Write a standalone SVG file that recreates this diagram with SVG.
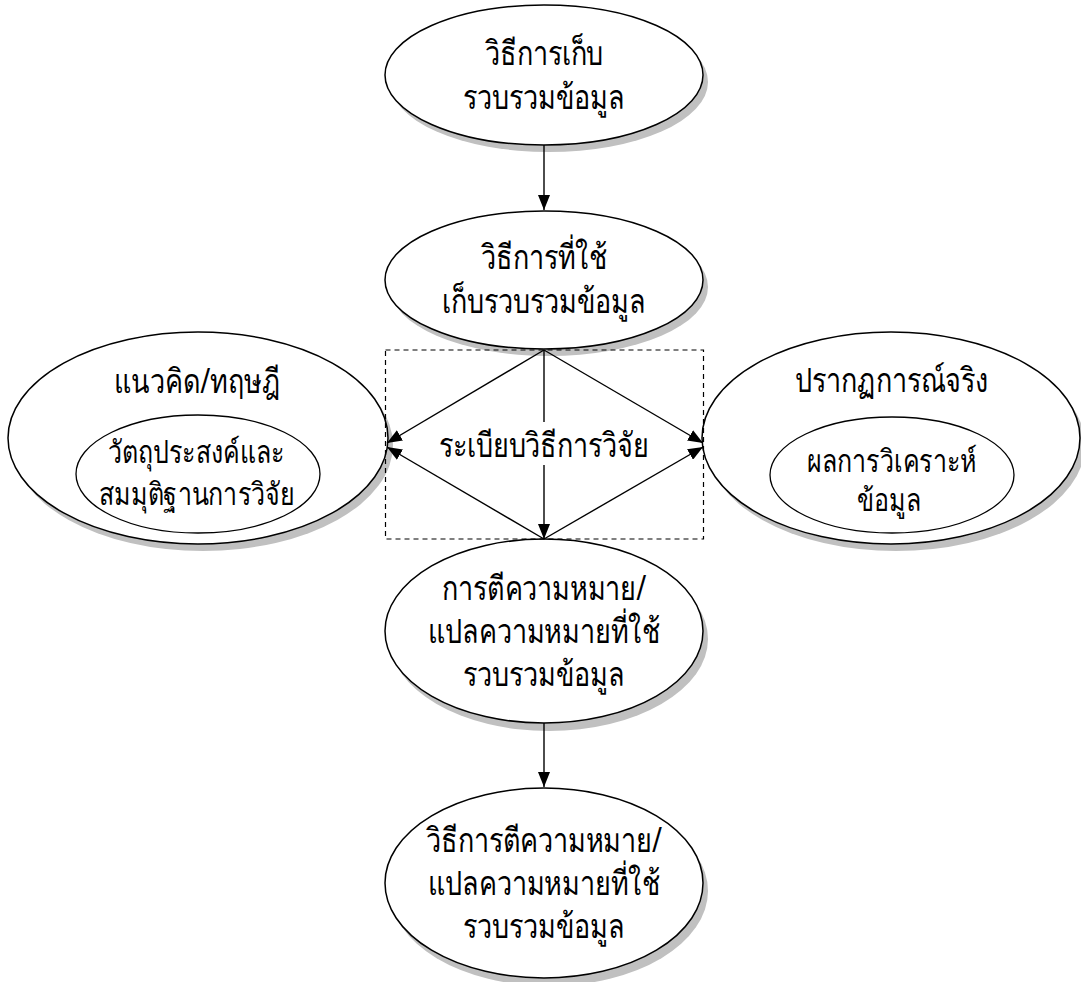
<svg xmlns="http://www.w3.org/2000/svg" width="1081" height="982" viewBox="0 0 1081 982">
<defs>
<style>
.sh{fill:#c0c0c0;stroke:none}
.nd{fill:#fff;stroke:#000;stroke-width:1.5}
.in{fill:#fff;stroke:#000;stroke-width:1.3}
.t{font-family:"Noto Sans","DejaVu Sans",sans-serif;font-size:27px;fill:#000;text-anchor:middle}
.ts{font-family:"Noto Sans","DejaVu Sans",sans-serif;font-size:25px;fill:#000;text-anchor:middle}
.c{stroke:#000;stroke-width:1.4;fill:none;marker-end:url(#ah)}
.box{fill:none;stroke:#000;stroke-width:1.2;stroke-dasharray:5 4}
</style>
<marker id="ah" viewBox="0 0 15 12" refX="15" refY="6" markerWidth="15" markerHeight="12" markerUnits="userSpaceOnUse" orient="auto">
<path d="M0,0 L15,6 L0,12 Z" fill="#000"/>
</marker>
</defs>
<rect width="1081" height="982" fill="#fff"/>
<g id="shadows">
<ellipse class="sh" cx="549" cy="82" rx="159" ry="70"/>
<ellipse class="sh" cx="549" cy="287" rx="159" ry="69"/>
<ellipse class="sh" cx="203" cy="445" rx="190" ry="106"/>
<ellipse class="sh" cx="896" cy="445" rx="189" ry="106"/>
<ellipse class="sh" cx="549" cy="639" rx="159" ry="92"/>
<ellipse class="sh" cx="549" cy="891" rx="159" ry="95"/>
</g>
<g id="n1">
<ellipse class="nd" cx="544" cy="75" rx="159" ry="70"/>
<text class="t" x="544" y="65" transform="translate(0,65) scale(1,1.25) translate(0,-65)">วิธีการเก็บ</text>
<text class="t" x="544" y="109" transform="translate(0,109) scale(1,1.25) translate(0,-109)">รวบรวมข้อมูล</text>
</g>
<g id="n2">
<ellipse class="nd" cx="544" cy="280" rx="159" ry="69"/>
<text class="t" x="544" y="269" transform="translate(0,269) scale(1,1.25) translate(0,-269)">วิธีการที่ใช้</text>
<text class="t" x="544" y="313" transform="translate(0,313) scale(1,1.25) translate(0,-313)">เก็บรวบรวมข้อมูล</text>
</g>
<g id="n3">
<ellipse class="nd" cx="198" cy="438" rx="190" ry="106"/>
<text class="t" x="197" y="393" transform="translate(0,393) scale(1,1.25) translate(0,-393)">แนวคิด/ทฤษฎี</text>
<ellipse class="in" cx="198" cy="474" rx="122" ry="59"/>
<text class="ts" x="196" y="463" transform="translate(0,463) scale(1,1.25) translate(0,-463)">วัตถุประสงค์และ</text>
<text class="ts" x="197" y="505" transform="translate(0,505) scale(1,1.25) translate(0,-505)">สมมุติฐานการวิจัย</text>
</g>
<g id="n4">
<ellipse class="nd" cx="891" cy="438" rx="189" ry="106"/>
<text class="t" x="892" y="392" transform="translate(0,392) scale(1,1.25) translate(0,-392)">ปรากฏการณ์จริง</text>
<ellipse class="in" cx="892" cy="475" rx="122" ry="58"/>
<text class="ts" x="892" y="472" transform="translate(0,472) scale(1,1.25) translate(0,-472)">ผลการวิเคราะห์</text>
<text class="ts" x="889" y="511" transform="translate(0,511) scale(1,1.25) translate(0,-511)">ข้อมูล</text>
</g>
<g id="n5">
<ellipse class="nd" cx="544" cy="631" rx="159" ry="92"/>
<text class="t" x="544" y="600" transform="translate(0,600) scale(1,1.25) translate(0,-600)">การตีความหมาย/</text>
<text class="t" x="544" y="643" transform="translate(0,643) scale(1,1.25) translate(0,-643)">แปลความหมายที่ใช้</text>
<text class="t" x="544" y="686" transform="translate(0,686) scale(1,1.25) translate(0,-686)">รวบรวมข้อมูล</text>
</g>
<g id="n6">
<ellipse class="nd" cx="544" cy="883" rx="159" ry="95"/>
<text class="t" x="544" y="852" transform="translate(0,852) scale(1,1.25) translate(0,-852)">วิธีการตีความหมาย/</text>
<text class="t" x="544" y="895" transform="translate(0,895) scale(1,1.25) translate(0,-895)">แปลความหมายที่ใช้</text>
<text class="t" x="544" y="938" transform="translate(0,938) scale(1,1.25) translate(0,-938)">รวบรวมข้อมูล</text>
</g>
<g id="method">
<rect class="box" x="385.5" y="350" width="318" height="189"/>
</g>
<g id="connectors">
<line class="c" x1="544" y1="145" x2="544" y2="210"/>
<line class="c" x1="544" y1="350" x2="544" y2="539"/>
<line class="c" x1="544" y1="350" x2="387" y2="443"/>
<line class="c" x1="544" y1="350" x2="703" y2="443"/>
<line class="c" x1="544" y1="539" x2="387" y2="447"/>
<line class="c" x1="544" y1="539" x2="703" y2="447"/>
<line class="c" x1="544" y1="723" x2="544" y2="787"/>
</g>
<g id="label">
<rect x="445" y="422" width="198" height="43" fill="#fff"/>
<text class="t" x="544" y="457" transform="translate(0,457) scale(1,1.25) translate(0,-457)">ระเบียบวิธีการวิจัย</text>
</g>
</svg>
